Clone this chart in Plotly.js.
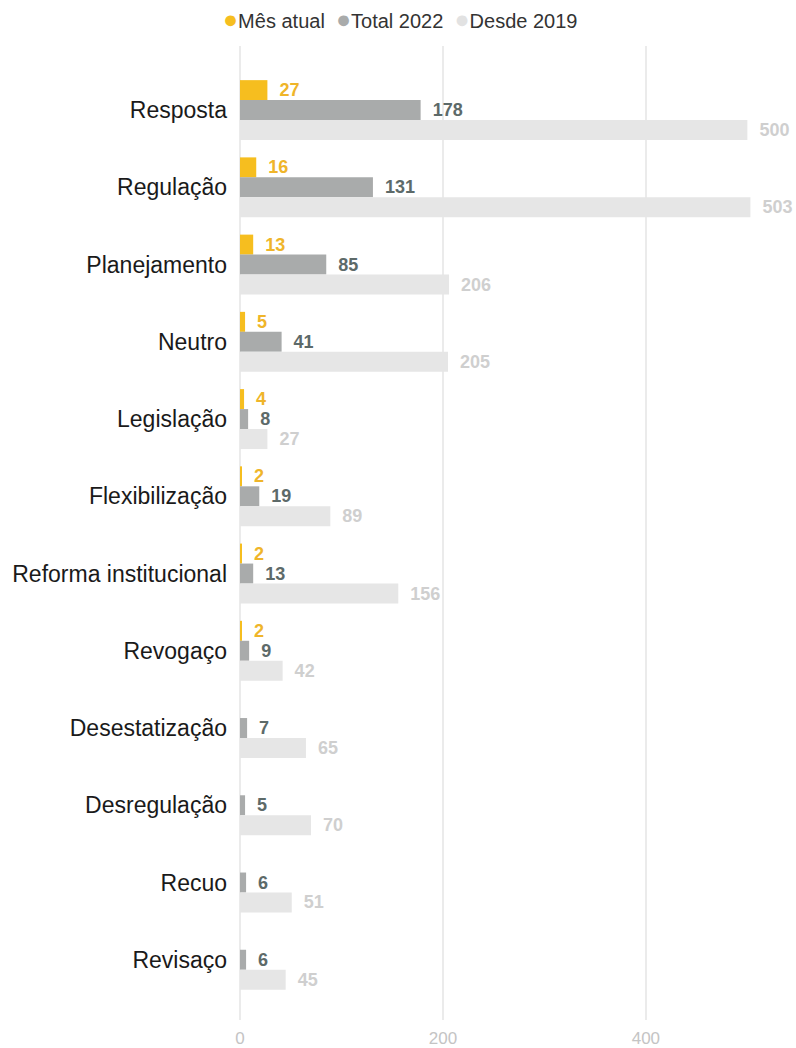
<!DOCTYPE html>
<html>
<head>
<meta charset="utf-8">
<script src="https://cdn.plot.ly/plotly-3.0.1.min.js"></script>
<style>html,body{margin:0;padding:0;background:#fff;}#chart{width:796px;height:1048px;}</style>
</head>
<body>
<div id="chart"></div>
<script>
const categories = ["Resposta","Regulação","Planejamento","Neutro","Legislação","Flexibilização","Reforma institucional","Revogaço","Desestatização","Desregulação","Recuo","Revisaço"];
const seriesNames = ["Mês atual","Total 2022","Desde 2019"];
const mesAtual = [27,16,13,5,4,2,2,2,null,null,null,null];
const total2022 = [178,131,85,41,8,19,13,9,7,5,6,6];
const desde2019 = [500,503,206,205,27,89,156,42,65,70,51,45];
const xTicks = [0,200,400];

const barColors = ["#f6be1f","#a9abab","#e6e6e6"];
const legendDotColors = ["#f6be1f","#a9abab","#e2e2e2"];
const textColors = ["#efb52a","#5d6a69","#cfcfcf"];
const values = [mesAtual,total2022,desde2019];

const labelFont = "Liberation Sans, Arial, sans-serif";

const traces = values.map((v,i)=>({
  type:"bar", orientation:"h",
  name: seriesNames[i],
  y: categories, x: v,
  marker:{color:barColors[i], line:{width:0}},
  text: v.map(d => d==null ? "" : "\u2002"+d),
  texttemplate: "%{text}",
  textposition:"outside",
  cliponaxis:false,
  constraintext:"none",
  textfont:{family:labelFont, size:18, color:textColors[i], weight:"bold"},
  outsidetextfont:{family:labelFont, size:18, color:textColors[i], weight:"bold"},
  showlegend:false,
  hoverinfo:"skip"
}));

// legend drawn as one centered line of text: coloured dot + series name
const legendText = seriesNames.map((n,i)=>
  '<span style="color:'+legendDotColors[i]+';font-size:25px">\u25CF</span>'+n
).join('\u00a0\u00a0');

const layout = {
  width:796, height:1048,
  margin:{l:240, r:6, t:46, b:28},
  paper_bgcolor:"#fff", plot_bgcolor:"#fff",
  barmode:"group", bargap:0.224, bargroupgap:0,
  font:{family:labelFont, color:"#222"},
  showlegend:false,
  annotations:[{
    xref:"paper", yref:"paper",
    x:(400-240)/550, y:1+(46-19)/974, xanchor:"center", yanchor:"middle",
    text:legendText, showarrow:false,
    font:{family:labelFont, size:20, color:"#333"}
  }],
  xaxis:{range:[0,542], tickvals:xTicks, showgrid:true, gridcolor:"#ebebeb", gridwidth:2,
         zeroline:true, zerolinecolor:"#ebebeb", zerolinewidth:2, showline:false,
         ticks:"", tickfont:{size:17, color:"#c4c4c4", family:labelFont}, ticklabelstandoff:6,
         fixedrange:true},
  yaxis:{type:"category", categoryorder:"array", categoryarray:categories,
         range:[11.78,-0.83], showgrid:false, zeroline:false, showline:false, ticks:"",
         tickfont:{size:23, color:"#1a1a1a", family:labelFont}, ticklabelstandoff:12,
         fixedrange:true},
  hovermode:false
};

Plotly.newPlot("chart", traces, layout, {displayModeBar:false, staticPlot:true});
</script>
</body>
</html>
